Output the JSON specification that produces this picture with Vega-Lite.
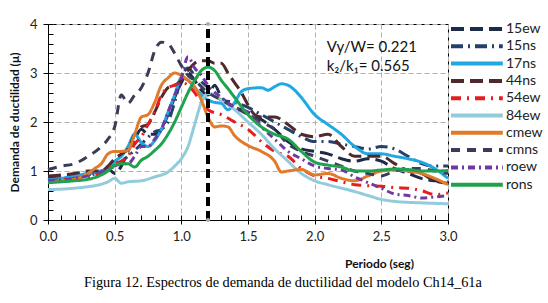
{
  "$schema": "https://vega.github.io/schema/vega-lite/v6.json",
  "width": 400,
  "height": 196,
  "autosize": {"type": "none"},
  "padding": {"left": 48, "top": 24, "right": 100, "bottom": 83},
  "background": "white",
  "config": {
    "view": {"stroke": "black", "strokeWidth": 1},
    "font": "Lato",
    "axis": {"labelFont": "Lato", "titleFont": "Lato", "labelColor": "#222", "titleColor": "#111", "domainColor": "black", "tickColor": "black"}
  },
  "title": {
    "text": "Figura 12. Espectros de demanda de ductilidad del modelo Ch14_61a",
    "orient": "bottom",
    "anchor": "start",
    "frame": "group",
    "font": "Liberation Serif",
    "fontSize": 14.3,
    "fontWeight": "normal",
    "color": "black",
    "offset": 7,
    "dx": 36
  },
  "data": {"values": [
    {"s":"15ew","T":0,"mu":0.85},{"s":"15ew","T":0.1,"mu":0.87},{"s":"15ew","T":0.2,"mu":0.9},{"s":"15ew","T":0.3,"mu":0.95},{"s":"15ew","T":0.4,"mu":1.0},{"s":"15ew","T":0.45,"mu":1.05},{"s":"15ew","T":0.5,"mu":0.95},{"s":"15ew","T":0.55,"mu":1.1},{"s":"15ew","T":0.6,"mu":1.4},{"s":"15ew","T":0.65,"mu":1.65},{"s":"15ew","T":0.7,"mu":1.85},{"s":"15ew","T":0.75,"mu":1.75},{"s":"15ew","T":0.8,"mu":1.75},{"s":"15ew","T":0.85,"mu":1.85},{"s":"15ew","T":0.9,"mu":2.15},{"s":"15ew","T":0.95,"mu":2.5},{"s":"15ew","T":1.0,"mu":2.8},{"s":"15ew","T":1.05,"mu":3.0},{"s":"15ew","T":1.1,"mu":2.85},{"s":"15ew","T":1.15,"mu":2.65},{"s":"15ew","T":1.2,"mu":2.55},{"s":"15ew","T":1.25,"mu":2.75},{"s":"15ew","T":1.3,"mu":2.5},{"s":"15ew","T":1.4,"mu":2.3},{"s":"15ew","T":1.5,"mu":2.2},{"s":"15ew","T":1.6,"mu":2.05},{"s":"15ew","T":1.7,"mu":1.85},{"s":"15ew","T":1.8,"mu":1.6},{"s":"15ew","T":1.9,"mu":1.45},{"s":"15ew","T":2.0,"mu":1.4},{"s":"15ew","T":2.1,"mu":1.35},{"s":"15ew","T":2.2,"mu":1.25},{"s":"15ew","T":2.3,"mu":1.2},{"s":"15ew","T":2.4,"mu":1.25},{"s":"15ew","T":2.5,"mu":1.2},{"s":"15ew","T":2.6,"mu":1.05},{"s":"15ew","T":2.7,"mu":0.95},{"s":"15ew","T":2.8,"mu":0.85},{"s":"15ew","T":2.9,"mu":0.8},{"s":"15ew","T":3.0,"mu":0.78},
    {"s":"15ns","T":0,"mu":0.82},{"s":"15ns","T":0.1,"mu":0.85},{"s":"15ns","T":0.2,"mu":0.88},{"s":"15ns","T":0.3,"mu":0.92},{"s":"15ns","T":0.4,"mu":1.0},{"s":"15ns","T":0.5,"mu":1.1},{"s":"15ns","T":0.6,"mu":1.3},{"s":"15ns","T":0.7,"mu":1.55},{"s":"15ns","T":0.8,"mu":1.8},{"s":"15ns","T":0.85,"mu":1.85},{"s":"15ns","T":0.9,"mu":2.0},{"s":"15ns","T":0.95,"mu":2.4},{"s":"15ns","T":1.0,"mu":2.9},{"s":"15ns","T":1.05,"mu":3.1},{"s":"15ns","T":1.1,"mu":2.95},{"s":"15ns","T":1.2,"mu":2.7},{"s":"15ns","T":1.3,"mu":2.45},{"s":"15ns","T":1.4,"mu":2.4},{"s":"15ns","T":1.5,"mu":2.3},{"s":"15ns","T":1.6,"mu":2.15},{"s":"15ns","T":1.7,"mu":2.0},{"s":"15ns","T":1.8,"mu":1.85},{"s":"15ns","T":1.9,"mu":1.7},{"s":"15ns","T":2.0,"mu":1.6},{"s":"15ns","T":2.1,"mu":1.6},{"s":"15ns","T":2.2,"mu":1.55},{"s":"15ns","T":2.3,"mu":1.5},{"s":"15ns","T":2.4,"mu":1.45},{"s":"15ns","T":2.5,"mu":1.5},{"s":"15ns","T":2.6,"mu":1.45},{"s":"15ns","T":2.7,"mu":1.3},{"s":"15ns","T":2.8,"mu":1.15},{"s":"15ns","T":2.9,"mu":1.1},{"s":"15ns","T":3.0,"mu":1.1},
    {"s":"17ns","T":0,"mu":0.82},{"s":"17ns","T":0.1,"mu":0.85},{"s":"17ns","T":0.2,"mu":0.9},{"s":"17ns","T":0.3,"mu":0.95},{"s":"17ns","T":0.4,"mu":1.0},{"s":"17ns","T":0.45,"mu":1.05},{"s":"17ns","T":0.5,"mu":1.2},{"s":"17ns","T":0.55,"mu":1.3},{"s":"17ns","T":0.6,"mu":1.5},{"s":"17ns","T":0.65,"mu":1.75},{"s":"17ns","T":0.7,"mu":1.58},{"s":"17ns","T":0.75,"mu":1.5},{"s":"17ns","T":0.8,"mu":1.62},{"s":"17ns","T":0.85,"mu":1.85},{"s":"17ns","T":0.9,"mu":2.2},{"s":"17ns","T":0.95,"mu":2.55},{"s":"17ns","T":1.0,"mu":2.9},{"s":"17ns","T":1.05,"mu":2.85},{"s":"17ns","T":1.1,"mu":2.7},{"s":"17ns","T":1.15,"mu":2.55},{"s":"17ns","T":1.2,"mu":2.45},{"s":"17ns","T":1.25,"mu":2.4},{"s":"17ns","T":1.3,"mu":2.38},{"s":"17ns","T":1.35,"mu":2.25},{"s":"17ns","T":1.4,"mu":2.4},{"s":"17ns","T":1.45,"mu":2.62},{"s":"17ns","T":1.5,"mu":2.68},{"s":"17ns","T":1.6,"mu":2.7},{"s":"17ns","T":1.65,"mu":2.65},{"s":"17ns","T":1.7,"mu":2.72},{"s":"17ns","T":1.75,"mu":2.78},{"s":"17ns","T":1.8,"mu":2.75},{"s":"17ns","T":1.85,"mu":2.65},{"s":"17ns","T":1.9,"mu":2.5},{"s":"17ns","T":2.0,"mu":2.15},{"s":"17ns","T":2.1,"mu":1.95},{"s":"17ns","T":2.2,"mu":1.75},{"s":"17ns","T":2.3,"mu":1.5},{"s":"17ns","T":2.4,"mu":1.35},{"s":"17ns","T":2.5,"mu":1.35},{"s":"17ns","T":2.6,"mu":1.3},{"s":"17ns","T":2.7,"mu":1.25},{"s":"17ns","T":2.8,"mu":1.18},{"s":"17ns","T":2.9,"mu":1.05},{"s":"17ns","T":3.0,"mu":0.85},
    {"s":"44ns","T":0,"mu":0.9},{"s":"44ns","T":0.1,"mu":0.92},{"s":"44ns","T":0.2,"mu":0.95},{"s":"44ns","T":0.3,"mu":1.0},{"s":"44ns","T":0.4,"mu":1.0},{"s":"44ns","T":0.45,"mu":1.1},{"s":"44ns","T":0.5,"mu":1.25},{"s":"44ns","T":0.55,"mu":1.35},{"s":"44ns","T":0.6,"mu":1.45},{"s":"44ns","T":0.65,"mu":1.75},{"s":"44ns","T":0.7,"mu":1.9},{"s":"44ns","T":0.75,"mu":1.95},{"s":"44ns","T":0.8,"mu":2.2},{"s":"44ns","T":0.85,"mu":2.5},{"s":"44ns","T":0.9,"mu":2.7},{"s":"44ns","T":0.95,"mu":2.75},{"s":"44ns","T":1.0,"mu":2.85},{"s":"44ns","T":1.05,"mu":3.05},{"s":"44ns","T":1.1,"mu":3.2},{"s":"44ns","T":1.15,"mu":3.25},{"s":"44ns","T":1.2,"mu":3.25},{"s":"44ns","T":1.25,"mu":3.2},{"s":"44ns","T":1.3,"mu":3.2},{"s":"44ns","T":1.35,"mu":3.0},{"s":"44ns","T":1.4,"mu":2.8},{"s":"44ns","T":1.45,"mu":2.6},{"s":"44ns","T":1.5,"mu":2.35},{"s":"44ns","T":1.55,"mu":2.15},{"s":"44ns","T":1.6,"mu":2.1},{"s":"44ns","T":1.7,"mu":2.1},{"s":"44ns","T":1.8,"mu":1.95},{"s":"44ns","T":1.9,"mu":1.75},{"s":"44ns","T":2.0,"mu":1.7},{"s":"44ns","T":2.1,"mu":1.75},{"s":"44ns","T":2.2,"mu":1.5},{"s":"44ns","T":2.3,"mu":1.3},{"s":"44ns","T":2.4,"mu":1.3},{"s":"44ns","T":2.5,"mu":1.3},{"s":"44ns","T":2.6,"mu":1.15},{"s":"44ns","T":2.7,"mu":1.0},{"s":"44ns","T":2.8,"mu":0.95},{"s":"44ns","T":2.9,"mu":0.8},{"s":"44ns","T":3.0,"mu":0.75},
    {"s":"54ew","T":0,"mu":0.8},{"s":"54ew","T":0.2,"mu":0.85},{"s":"54ew","T":0.3,"mu":0.88},{"s":"54ew","T":0.4,"mu":0.95},{"s":"54ew","T":0.5,"mu":1.15},{"s":"54ew","T":0.55,"mu":1.2},{"s":"54ew","T":0.6,"mu":1.3},{"s":"54ew","T":0.65,"mu":1.55},{"s":"54ew","T":0.7,"mu":1.7},{"s":"54ew","T":0.75,"mu":1.95},{"s":"54ew","T":0.8,"mu":2.2},{"s":"54ew","T":0.85,"mu":2.55},{"s":"54ew","T":0.9,"mu":2.7},{"s":"54ew","T":0.95,"mu":2.75},{"s":"54ew","T":1.0,"mu":2.8},{"s":"54ew","T":1.05,"mu":2.75},{"s":"54ew","T":1.1,"mu":2.6},{"s":"54ew","T":1.15,"mu":2.4},{"s":"54ew","T":1.2,"mu":2.25},{"s":"54ew","T":1.3,"mu":2.15},{"s":"54ew","T":1.4,"mu":2.0},{"s":"54ew","T":1.5,"mu":1.85},{"s":"54ew","T":1.6,"mu":1.6},{"s":"54ew","T":1.7,"mu":1.4},{"s":"54ew","T":1.8,"mu":1.3},{"s":"54ew","T":1.9,"mu":1.05},{"s":"54ew","T":2.0,"mu":0.9},{"s":"54ew","T":2.1,"mu":0.85},{"s":"54ew","T":2.2,"mu":0.78},{"s":"54ew","T":2.3,"mu":0.72},{"s":"54ew","T":2.4,"mu":0.7},{"s":"54ew","T":2.5,"mu":0.69},{"s":"54ew","T":2.6,"mu":0.66},{"s":"54ew","T":2.7,"mu":0.65},{"s":"54ew","T":2.8,"mu":0.6},{"s":"54ew","T":2.9,"mu":0.52},{"s":"54ew","T":3.0,"mu":0.55},
    {"s":"84ew","T":0,"mu":0.62},{"s":"84ew","T":0.1,"mu":0.63},{"s":"84ew","T":0.2,"mu":0.65},{"s":"84ew","T":0.3,"mu":0.68},{"s":"84ew","T":0.4,"mu":0.73},{"s":"84ew","T":0.45,"mu":0.78},{"s":"84ew","T":0.5,"mu":0.85},{"s":"84ew","T":0.55,"mu":0.75},{"s":"84ew","T":0.6,"mu":0.78},{"s":"84ew","T":0.7,"mu":0.8},{"s":"84ew","T":0.8,"mu":0.88},{"s":"84ew","T":0.9,"mu":0.98},{"s":"84ew","T":0.95,"mu":1.1},{"s":"84ew","T":1.0,"mu":1.25},{"s":"84ew","T":1.05,"mu":1.5},{"s":"84ew","T":1.1,"mu":1.95},{"s":"84ew","T":1.15,"mu":2.4},{"s":"84ew","T":1.2,"mu":2.58},{"s":"84ew","T":1.25,"mu":2.55},{"s":"84ew","T":1.3,"mu":2.45},{"s":"84ew","T":1.4,"mu":2.25},{"s":"84ew","T":1.5,"mu":2.0},{"s":"84ew","T":1.6,"mu":1.75},{"s":"84ew","T":1.7,"mu":1.45},{"s":"84ew","T":1.8,"mu":1.2},{"s":"84ew","T":1.9,"mu":0.95},{"s":"84ew","T":2.0,"mu":0.8},{"s":"84ew","T":2.1,"mu":0.72},{"s":"84ew","T":2.2,"mu":0.65},{"s":"84ew","T":2.3,"mu":0.58},{"s":"84ew","T":2.4,"mu":0.5},{"s":"84ew","T":2.5,"mu":0.42},{"s":"84ew","T":2.6,"mu":0.38},{"s":"84ew","T":2.7,"mu":0.36},{"s":"84ew","T":2.8,"mu":0.35},{"s":"84ew","T":2.9,"mu":0.34},{"s":"84ew","T":3.0,"mu":0.33},
    {"s":"cmew","T":0,"mu":0.78},{"s":"cmew","T":0.1,"mu":0.8},{"s":"cmew","T":0.2,"mu":0.83},{"s":"cmew","T":0.3,"mu":0.95},{"s":"cmew","T":0.35,"mu":1.05},{"s":"cmew","T":0.4,"mu":1.15},{"s":"cmew","T":0.45,"mu":1.35},{"s":"cmew","T":0.5,"mu":1.4},{"s":"cmew","T":0.55,"mu":1.4},{"s":"cmew","T":0.6,"mu":1.42},{"s":"cmew","T":0.65,"mu":1.75},{"s":"cmew","T":0.7,"mu":2.1},{"s":"cmew","T":0.75,"mu":2.15},{"s":"cmew","T":0.8,"mu":2.4},{"s":"cmew","T":0.85,"mu":2.75},{"s":"cmew","T":0.9,"mu":2.9},{"s":"cmew","T":0.95,"mu":3.0},{"s":"cmew","T":1.0,"mu":2.95},{"s":"cmew","T":1.05,"mu":2.85},{"s":"cmew","T":1.1,"mu":2.72},{"s":"cmew","T":1.15,"mu":2.45},{"s":"cmew","T":1.2,"mu":2.1},{"s":"cmew","T":1.25,"mu":1.9},{"s":"cmew","T":1.3,"mu":1.92},{"s":"cmew","T":1.35,"mu":1.9},{"s":"cmew","T":1.4,"mu":1.72},{"s":"cmew","T":1.5,"mu":1.52},{"s":"cmew","T":1.6,"mu":1.4},{"s":"cmew","T":1.7,"mu":1.2},{"s":"cmew","T":1.75,"mu":0.98},{"s":"cmew","T":1.8,"mu":1.0},{"s":"cmew","T":1.9,"mu":1.03},{"s":"cmew","T":2.0,"mu":0.92},{"s":"cmew","T":2.1,"mu":0.95},{"s":"cmew","T":2.2,"mu":0.85},{"s":"cmew","T":2.3,"mu":0.8},{"s":"cmew","T":2.4,"mu":0.9},{"s":"cmew","T":2.5,"mu":1.0},{"s":"cmew","T":2.6,"mu":1.02},{"s":"cmew","T":2.7,"mu":1.0},{"s":"cmew","T":2.8,"mu":0.95},{"s":"cmew","T":2.9,"mu":0.85},{"s":"cmew","T":3.0,"mu":0.72},
    {"s":"cmns","T":0,"mu":1.03},{"s":"cmns","T":0.1,"mu":1.1},{"s":"cmns","T":0.2,"mu":1.15},{"s":"cmns","T":0.3,"mu":1.3},{"s":"cmns","T":0.4,"mu":1.5},{"s":"cmns","T":0.45,"mu":1.65},{"s":"cmns","T":0.5,"mu":1.9},{"s":"cmns","T":0.55,"mu":2.55},{"s":"cmns","T":0.6,"mu":2.38},{"s":"cmns","T":0.65,"mu":2.55},{"s":"cmns","T":0.7,"mu":2.7},{"s":"cmns","T":0.75,"mu":3.0},{"s":"cmns","T":0.8,"mu":3.45},{"s":"cmns","T":0.85,"mu":3.63},{"s":"cmns","T":0.9,"mu":3.6},{"s":"cmns","T":0.95,"mu":3.4},{"s":"cmns","T":1.0,"mu":3.15},{"s":"cmns","T":1.05,"mu":2.95},{"s":"cmns","T":1.1,"mu":2.85},{"s":"cmns","T":1.2,"mu":2.6},{"s":"cmns","T":1.3,"mu":2.45},{"s":"cmns","T":1.4,"mu":2.3},{"s":"cmns","T":1.5,"mu":2.15},{"s":"cmns","T":1.6,"mu":2.0},{"s":"cmns","T":1.7,"mu":1.85},{"s":"cmns","T":1.8,"mu":1.55},{"s":"cmns","T":1.9,"mu":1.4},{"s":"cmns","T":2.0,"mu":1.3},{"s":"cmns","T":2.1,"mu":1.2},{"s":"cmns","T":2.2,"mu":1.1},{"s":"cmns","T":2.3,"mu":1.0},{"s":"cmns","T":2.4,"mu":0.95},{"s":"cmns","T":2.5,"mu":0.9},{"s":"cmns","T":2.6,"mu":1.0},{"s":"cmns","T":2.7,"mu":1.05},{"s":"cmns","T":2.8,"mu":1.05},{"s":"cmns","T":2.9,"mu":1.0},{"s":"cmns","T":3.0,"mu":0.95},
    {"s":"roew","T":0,"mu":0.8},{"s":"roew","T":0.1,"mu":0.82},{"s":"roew","T":0.2,"mu":0.85},{"s":"roew","T":0.3,"mu":0.9},{"s":"roew","T":0.4,"mu":0.98},{"s":"roew","T":0.5,"mu":1.1},{"s":"roew","T":0.55,"mu":1.15},{"s":"roew","T":0.6,"mu":1.15},{"s":"roew","T":0.65,"mu":1.3},{"s":"roew","T":0.7,"mu":1.5},{"s":"roew","T":0.75,"mu":1.5},{"s":"roew","T":0.8,"mu":1.65},{"s":"roew","T":0.85,"mu":1.85},{"s":"roew","T":0.9,"mu":2.2},{"s":"roew","T":0.95,"mu":2.55},{"s":"roew","T":1.0,"mu":2.9},{"s":"roew","T":1.05,"mu":3.33},{"s":"roew","T":1.1,"mu":3.1},{"s":"roew","T":1.15,"mu":2.95},{"s":"roew","T":1.2,"mu":2.75},{"s":"roew","T":1.3,"mu":2.5},{"s":"roew","T":1.4,"mu":2.3},{"s":"roew","T":1.5,"mu":2.2},{"s":"roew","T":1.6,"mu":1.9},{"s":"roew","T":1.7,"mu":1.65},{"s":"roew","T":1.8,"mu":1.4},{"s":"roew","T":1.9,"mu":1.25},{"s":"roew","T":2.0,"mu":1.1},{"s":"roew","T":2.1,"mu":1.05},{"s":"roew","T":2.2,"mu":1.02},{"s":"roew","T":2.3,"mu":0.88},{"s":"roew","T":2.4,"mu":0.76},{"s":"roew","T":2.5,"mu":0.65},{"s":"roew","T":2.6,"mu":0.53},{"s":"roew","T":2.7,"mu":0.5},{"s":"roew","T":2.8,"mu":0.45},{"s":"roew","T":2.9,"mu":0.47},{"s":"roew","T":3.0,"mu":0.5},
    {"s":"rons","T":0,"mu":0.76},{"s":"rons","T":0.1,"mu":0.78},{"s":"rons","T":0.2,"mu":0.8},{"s":"rons","T":0.3,"mu":0.83},{"s":"rons","T":0.4,"mu":0.92},{"s":"rons","T":0.45,"mu":1.0},{"s":"rons","T":0.5,"mu":1.12},{"s":"rons","T":0.55,"mu":1.15},{"s":"rons","T":0.6,"mu":1.15},{"s":"rons","T":0.65,"mu":1.08},{"s":"rons","T":0.7,"mu":1.22},{"s":"rons","T":0.75,"mu":1.3},{"s":"rons","T":0.8,"mu":1.42},{"s":"rons","T":0.85,"mu":1.55},{"s":"rons","T":0.9,"mu":1.75},{"s":"rons","T":0.95,"mu":2.0},{"s":"rons","T":1.0,"mu":2.3},{"s":"rons","T":1.05,"mu":2.6},{"s":"rons","T":1.1,"mu":2.85},{"s":"rons","T":1.15,"mu":3.05},{"s":"rons","T":1.2,"mu":3.12},{"s":"rons","T":1.25,"mu":3.05},{"s":"rons","T":1.3,"mu":2.85},{"s":"rons","T":1.35,"mu":2.68},{"s":"rons","T":1.4,"mu":2.5},{"s":"rons","T":1.5,"mu":2.15},{"s":"rons","T":1.6,"mu":1.9},{"s":"rons","T":1.7,"mu":1.75},{"s":"rons","T":1.8,"mu":1.65},{"s":"rons","T":1.9,"mu":1.4},{"s":"rons","T":2.0,"mu":1.18},{"s":"rons","T":2.1,"mu":1.12},{"s":"rons","T":2.2,"mu":1.08},{"s":"rons","T":2.3,"mu":1.0},{"s":"rons","T":2.4,"mu":1.0},{"s":"rons","T":2.5,"mu":1.02},{"s":"rons","T":2.6,"mu":1.04},{"s":"rons","T":2.7,"mu":1.03},{"s":"rons","T":2.8,"mu":1.0},{"s":"rons","T":2.9,"mu":1.0},{"s":"rons","T":3.0,"mu":1.01}
  ]},
  "resolve": {"axis": {"x": "independent", "y": "independent"}},
  "layer": [
    {
      "mark": {"type": "line", "strokeWidth": 3, "interpolate": "monotone"},
      "encoding": {
        "x": {"field": "T", "type": "quantitative", "scale": {"domain": [0, 3], "nice": false},
          "axis": {"values": [0, 0.5, 1, 1.5, 2, 2.5, 3], "format": ".1f", "title": "Periodo (seg)", "titleFontWeight": "bold", "titleFontSize": 12, "titleX": 331, "titleY": 43, "titleAlign": "center", "titleBaseline": "middle", "labelFontSize": 13, "labelPadding": 6, "tickSize": 4, "grid": true, "gridColor": "#b0b0b0", "gridDash": [5, 3], "labelFlush": false}},
        "y": {"field": "mu", "type": "quantitative", "scale": {"domain": [0, 4], "nice": false},
          "axis": {"values": [0, 1, 2, 3, 4], "title": "Demanda de ductilidad (μ)", "titleFontWeight": "bold", "titleFontSize": 12, "titlePadding": 8, "labelFontSize": 13, "labelPadding": 6, "tickSize": 5, "grid": true, "gridColor": "#b0b0b0", "gridDash": [5, 3]}},
        "color": {"field": "s", "type": "nominal",
          "scale": {"domain": ["15ew","15ns","17ns","44ns","54ew","84ew","cmew","cmns","roew","rons"],
                    "range": ["#1d2b48","#25406a","#1fa8e2","#50292d","#e61c1e","#92cbdc","#e27a2b","#3a3c58","#7238a2","#1ea24c"]},
          "legend": {"title": null, "orient": "none", "legendX": 415, "legendY": -4, "labelFont": "Lato", "labelFontSize": 14, "labelColor": "#222", "symbolType": "M-3,0H4.4", "symbolSize": 196, "symbolStrokeWidth": 4, "symbolFillColor": "transparent", "rowPadding": 0.3, "labelOffset": 25, "padding": 0}},
        "strokeDash": {"field": "s", "type": "nominal",
          "scale": {"domain": ["15ew","15ns","17ns","44ns","54ew","84ew","cmew","cmns","roew","rons"],
                    "range": [[13,6],[12,5,2,5],[1,0],[13,6],[10,6,2,6],[1,0],[1,0],[9,7],[7,4,2,4],[1,0]]},
          "legend": null}
      }
    },
    {
      "mark": {"type": "rule", "color": "black", "strokeWidth": 4, "strokeDash": [9, 5]},
      "encoding": {
        "x": {"datum": 1.2, "type": "quantitative",
          "axis": {"orient": "bottom", "values": [0,0.1,0.2,0.3,0.4,0.5,0.6,0.7,0.8,0.9,1,1.1,1.2,1.3,1.4,1.5,1.6,1.7,1.8,1.9,2,2.1,2.2,2.3,2.4,2.5,2.6,2.7,2.8,2.9,3], "labels": false, "domain": false, "grid": false, "tickSize": -5, "title": null}},
        "y": {"datum": 0, "type": "quantitative",
          "axis": {"orient": "left", "values": [0,0.2,0.4,0.6,0.8,1,1.2,1.4,1.6,1.8,2,2.2,2.4,2.6,2.8,3,3.2,3.4,3.6,3.8,4], "labels": false, "domain": false, "grid": false, "tickSize": -5, "title": null}},
        "y2": {"datum": 4}
      }
    },
    {
      "data": {"values": [{"T": 1.2, "mu": 0}, {"T": 1.2, "mu": 4}]},
      "mark": {"type": "point", "filled": true, "size": 18, "color": "#9fb3bf", "opacity": 1},
      "encoding": {
        "x": {"field": "T", "type": "quantitative", "axis": null},
        "y": {"field": "mu", "type": "quantitative", "axis": null}
      }
    },
    {
      "data": {"values": [{"T": 2.09, "mu": 3.53, "txt": "Vy/W= 0.221"}, {"T": 2.09, "mu": 3.15, "txt": "k₂/k₁= 0.565"}]},
      "mark": {"type": "text", "align": "left", "baseline": "middle", "font": "Lato", "fontSize": 15, "color": "#111"},
      "encoding": {
        "x": {"field": "T", "type": "quantitative", "axis": null},
        "y": {"field": "mu", "type": "quantitative", "axis": null},
        "text": {"field": "txt"}
      }
    }
  ]
}
